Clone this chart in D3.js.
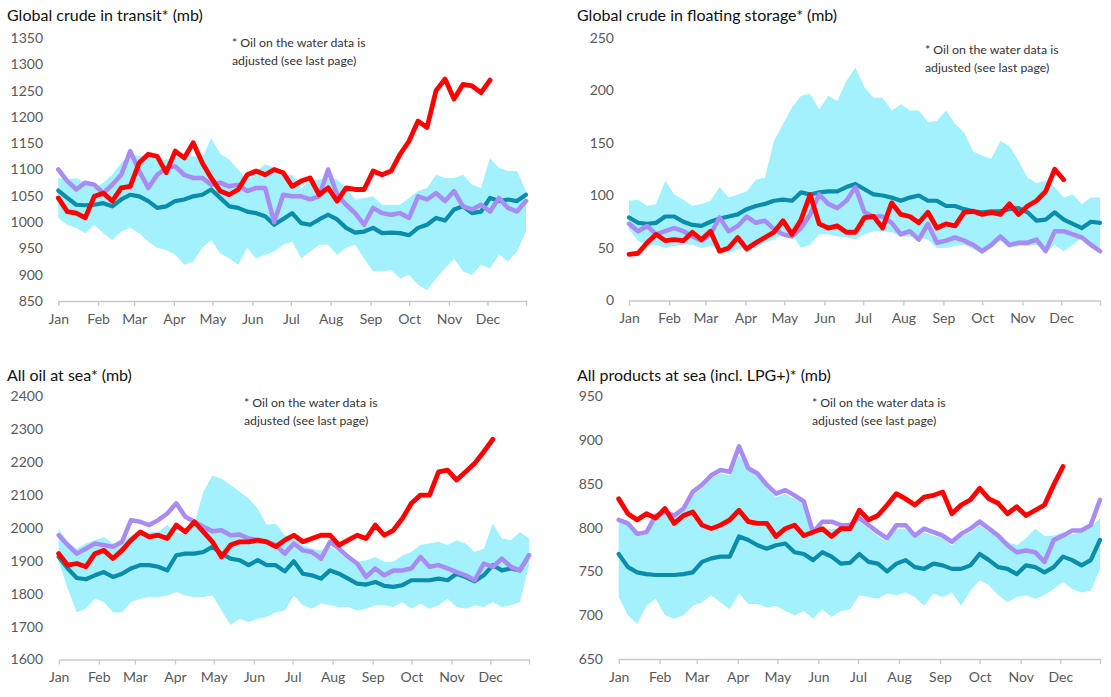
<!DOCTYPE html>
<html>
<head>
<meta charset="utf-8">
<script src="https://cdn.jsdelivr.net/npm/d3@7"></script>
<style>
  body { margin: 0; background: #fff; }
  svg { display: block; font-family: Lato, "Noto Sans", sans-serif; }
</style>
</head>
<body>
<svg width="1111" height="697"></svg>
<script>
// weekly readings, week i = Jan 1 + 7*i days (2023 calendar used only for the x scale)
const monthLabels = ["Jan","Feb","Mar","Apr","May","Jun","Jul","Aug","Sep","Oct","Nov","Dec"];
const noteLines = ["* Oil on the water data is", "adjusted (see last page)"];

// Global crude in transit
const transitTicks = [850, 900, 950, 1000, 1050, 1100, 1150, 1200, 1250, 1300, 1350];
const transitUpper = [1084,1081,1084,1075,1065,1075,1090,1113,1129,1125,1125,1119,1119,1122,1129,1125,1122,1160,1130,1119,1100,1078,1097,1110,1103,1090,1090,1065,1078,1081,1084,1081,1065,1043,1046,1049,1033,1033,1033,1046,1059,1065,1090,1084,1084,1090,1071,1065,1122,1103,1097,1097,1059];
const transitLower = [1008,995,989,979,995,979,966,982,989,979,963,951,947,938,919,925,951,966,941,931,919,951,931,938,944,957,963,931,944,957,957,938,951,957,931,906,906,909,893,900,881,871,893,912,931,906,900,919,912,938,925,944,982];
const transitAvg = [1060,1046,1033,1032,1033,1036,1030,1043,1052,1049,1040,1027,1030,1040,1043,1049,1052,1062,1046,1030,1027,1020,1017,1011,995,1006,1017,998,995,1005,1014,1005,989,980,982,989,979,980,979,975,989,995,1008,1003,1024,1030,1017,1020,1046,1040,1043,1040,1052];
const transitPrev = [1100,1078,1062,1075,1071,1055,1071,1090,1135,1097,1065,1090,1103,1106,1090,1084,1084,1071,1075,1068,1071,1059,1065,1065,1000,1052,1049,1049,1043,1049,1100,1052,1033,1017,995,1027,1017,1014,1017,1008,1049,1043,1055,1040,1059,1030,1024,1033,1020,1046,1027,1020,1040];
const transitCurr = [1046,1020,1017,1008,1049,1055,1040,1065,1068,1113,1129,1125,1094,1135,1122,1151,1113,1084,1059,1052,1062,1090,1097,1090,1100,1094,1068,1078,1084,1052,1065,1040,1065,1062,1062,1097,1090,1097,1129,1154,1192,1180,1250,1272,1234,1262,1259,1246,1270];

// Global crude in floating storage
const floatTicks = [0, 50, 100, 150, 200, 250];
const floatUpper = [95,96,90,92,114,101,96,90,92,95,108,98,101,104,115,117,152,168,184,195,197,182,195,190,209,222,203,193,193,181,187,181,181,170,171,181,168,160,142,138,135,152,147,133,117,112,114,108,98,101,92,98,98];
const floatLower = [68,57,52,53,50,52,53,53,50,52,50,45,49,50,50,55,58,63,63,50,53,63,63,61,60,58,63,66,66,65,61,61,60,58,50,50,52,53,49,44,50,57,50,52,52,53,45,53,47,53,60,53,50];
const floatAvg = [79,74,73,74,80,80,75,72,71,75,78,80,82,87,90,92,95,96,95,103,101,103,104,104,108,111,106,101,100,98,95,98,100,95,95,90,90,87,85,84,85,85,87,88,84,76,77,84,77,73,69,75,74];
const floatPrev = [73,66,71,63,66,69,66,61,57,63,79,66,71,80,74,76,68,63,61,69,82,101,92,88,95,108,84,80,80,74,63,66,58,73,55,57,60,57,53,47,53,61,53,55,55,58,47,66,66,63,60,53,47];
const floatCurr = [44,45,55,63,57,58,57,65,58,66,47,50,60,49,55,60,65,76,63,77,101,73,69,71,65,65,79,80,69,93,82,80,74,84,69,73,71,84,85,82,84,82,92,82,90,95,104,125,115];

// All oil at sea
const seaTicks = [1600, 1700, 1800, 1900, 2000, 2100, 2200, 2300, 2400];
const seaUpper = [1998,1958,1937,1953,1963,1973,1953,1958,1978,1988,1988,1988,2009,1988,1978,2014,2110,2160,2150,2131,2110,2090,2059,2009,2014,1978,1973,1948,1937,1932,1943,1927,1902,1897,1902,1912,1897,1897,1917,1927,1948,1953,1958,1948,1963,1953,1927,1937,2014,1968,1963,1988,1968];
const seaLower = [1897,1815,1744,1754,1785,1775,1744,1744,1775,1785,1790,1790,1795,1805,1795,1790,1790,1795,1749,1705,1724,1714,1724,1729,1744,1749,1795,1765,1754,1770,1765,1760,1760,1749,1754,1765,1765,1760,1775,1754,1770,1754,1765,1785,1760,1754,1765,1760,1775,1760,1765,1775,1887];
const seaAvg = [1912,1877,1848,1844,1856,1866,1851,1861,1877,1887,1887,1882,1871,1917,1922,1922,1927,1943,1922,1907,1902,1887,1902,1887,1887,1868,1899,1861,1856,1846,1871,1861,1846,1831,1828,1836,1824,1821,1826,1841,1841,1841,1846,1841,1861,1851,1838,1856,1887,1871,1877,1871,1917];
const seaPrev = [1978,1948,1922,1937,1953,1948,1943,1958,2024,2019,2009,2024,2044,2075,2034,2019,2004,1990,1993,1978,1980,1968,1963,1958,1948,1922,1953,1932,1927,1907,1958,1937,1912,1892,1851,1877,1856,1871,1871,1877,1912,1882,1887,1877,1866,1856,1841,1892,1882,1907,1882,1871,1917];
const seaCurr = [1922,1887,1892,1882,1922,1932,1907,1932,1963,1988,1973,1978,1968,2009,1988,2019,1988,1958,1912,1948,1958,1958,1963,1958,1943,1963,1978,1958,1968,1978,1978,1948,1963,1978,1968,2009,1978,1993,2029,2075,2100,2100,2171,2176,2146,2171,2197,2232,2270];

// All products at sea
const prodTicks = [650, 700, 750, 800, 850, 900, 950];
const prodUpper = [809,805,795,795,812,816,812,820,837,845,857,862,860,883,866,860,845,835,839,833,826,791,799,799,799,801,807,799,791,784,799,799,788,795,791,788,780,790,795,803,795,790,784,780,788,799,791,791,795,793,795,801,811];
const prodLower = [721,700,690,711,719,700,696,700,711,715,723,715,707,725,713,713,709,711,705,700,705,696,707,698,705,707,723,721,719,725,723,726,721,711,725,721,726,711,728,740,734,723,715,721,723,719,723,730,738,730,726,728,753];
const prodAvg = [770,755,749,747,746,746,746,747,749,761,765,767,767,790,786,780,776,780,782,772,770,763,772,767,759,760,770,761,759,750,759,763,755,753,759,757,753,753,757,770,763,755,753,747,757,755,749,755,767,763,757,763,786];
const prodPrev = [809,805,793,795,814,818,814,822,841,849,860,866,864,893,868,862,849,839,843,837,830,795,807,807,803,803,811,803,795,788,803,803,791,799,795,791,784,793,799,807,799,791,780,772,774,772,761,786,791,797,797,803,832];
const prodCurr = [833,816,809,816,811,822,805,814,818,803,799,803,809,820,807,805,805,790,799,803,791,795,799,790,799,799,820,809,814,826,839,833,826,835,837,841,816,826,832,845,833,828,816,824,814,820,826,849,870];

const colors = { band: "#a2f1fc", avg: "#0a8cab", prev: "#a98cf3", curr: "#ff0000" };

const weekDate = i => new Date(2023, 0, 1 + 7 * i);
const yearStart = new Date(2023, 0, 1), yearEnd = new Date(2023, 11, 31);
const monthStarts = d3.range(12).map(m => new Date(2023, m, 1));

const panels = [
  { title: "Global crude in transit* (mb)", ticks: transitTicks,
    upper: transitUpper, lower: transitLower, avg: transitAvg, prev: transitPrev, curr: transitCurr,
    x: [58.3, 526], y: [301, 38], labelX: 43, titleX: 7, titleY: 15, noteX: 232, noteY: 43 },
  { title: "Global crude in floating storage* (mb)", ticks: floatTicks,
    upper: floatUpper, lower: floatLower, avg: floatAvg, prev: floatPrev, curr: floatCurr,
    x: [629, 1100], y: [300.5, 38], labelX: 614, titleX: 577, titleY: 15, noteX: 925, noteY: 50 },
  { title: "All oil at sea* (mb)", ticks: seaTicks,
    upper: seaUpper, lower: seaLower, avg: seaAvg, prev: seaPrev, curr: seaCurr,
    x: [58.7, 529], y: [659.5, 396.5], labelX: 43, titleX: 7, titleY: 375, noteX: 244, noteY: 403 },
  { title: "All products at sea (incl. LPG+)* (mb)", ticks: prodTicks,
    upper: prodUpper, lower: prodLower, avg: prodAvg, prev: prodPrev, curr: prodCurr,
    x: [618.7, 1100], y: [659, 396.5], labelX: 603, titleX: 577, titleY: 375, noteX: 812, noteY: 403 }
];

const svg = d3.select("svg");

panels.forEach(p => {
  const g = svg.append("g");
  const x = d3.scaleTime().domain([yearStart, yearEnd]).range(p.x);
  const y = d3.scaleLinear().domain(d3.extent(p.ticks)).range(p.y);

  const band = p.upper.map((u, i) => ({ date: weekDate(i), hi: u, lo: p.lower[i] }));
  const area = d3.area()
    .x(d => x(d.date))
    .y0(d => y(d.lo))
    .y1(d => y(d.hi));
  g.append("path").datum(band)
    .attr("d", area)
    .attr("fill", colors.band);

  const line = d3.line()
    .x((d, i) => x(weekDate(i)))
    .y(d => y(d));

  [["avg", 4.2], ["prev", 4.5], ["curr", 4.8]].forEach(([key, w]) => {
    g.append("path").datum(p[key])
      .attr("d", line)
      .attr("fill", "none")
      .attr("stroke", colors[key])
      .attr("stroke-width", w)
      .attr("stroke-linejoin", "round")
      .attr("stroke-linecap", "round");
  });

  // x axis
  const xAxis = d3.axisBottom(x)
    .tickValues(monthStarts.concat([yearEnd]))
    .tickFormat((d, i) => monthLabels[i] || "")
    .tickSize(5)
    .tickSizeOuter(0)
    .tickPadding(8);
  const xg = g.append("g")
    .attr("transform", `translate(0,${p.y[0]})`)
    .call(xAxis);
  xg.select(".domain").attr("stroke", "#c9c9c9").attr("stroke-width", 1.6);
  xg.selectAll(".tick line").attr("stroke", "#c9c9c9").attr("stroke-width", 1.3);
  xg.selectAll(".tick text").attr("fill", "#595959").attr("font-size", 14)
    .attr("font-family", "Lato, sans-serif");

  // y labels
  const yAxis = d3.axisLeft(y).tickValues(p.ticks).tickFormat(d3.format("d"))
    .tickSize(0).tickPadding(0);
  const yg = g.append("g")
    .attr("transform", `translate(${p.labelX},0)`)
    .call(yAxis);
  yg.select(".domain").remove();
  yg.selectAll(".tick text").attr("fill", "#595959").attr("font-size", 14)
    .attr("font-family", "Lato, sans-serif");

  // title
  g.append("text")
    .attr("x", p.titleX)
    .attr("y", p.titleY)
    .attr("dy", "0.35em")
    .attr("fill", "#111")
    .attr("font-size", 16)
    .text(p.title);

  // note
  g.selectAll(".note").data(noteLines).join("text")
    .attr("class", "note")
    .attr("x", p.noteX)
    .attr("y", (d, i) => p.noteY + i * 17.5)
    .attr("dy", "0.35em")
    .attr("fill", "#333")
    .attr("font-size", 12.3)
    .text(d => d);
});
</script>
</body>
</html>
